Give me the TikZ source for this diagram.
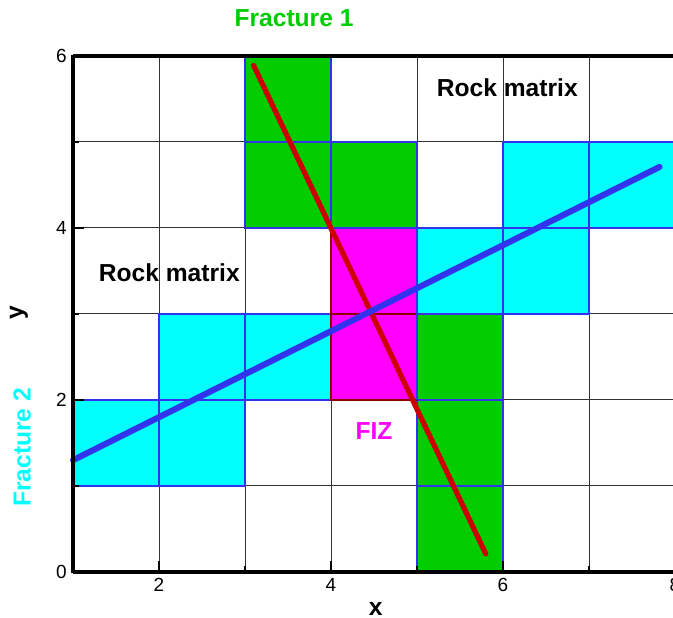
\documentclass[tikz,border=0pt]{standalone}
\usepackage{fontspec}
\setmainfont{Liberation Sans}
\definecolor{fgreen}{RGB}{0,204,0}
\definecolor{fcyan}{RGB}{0,255,255}
\definecolor{fmag}{RGB}{255,0,255}
\definecolor{fblue}{RGB}{51,51,238}
\definecolor{fred}{RGB}{204,0,0}
\begin{document}
\begin{tikzpicture}[x=43pt,y=43pt,
  gridline/.style={line width=0.5pt,black!80},
  cellborder/.style={line width=1.1pt,draw=fblue},
  axisline/.style={line width=1.6pt,black},
  ticklab/.style={font=\fontsize{9.5pt}{10pt}\selectfont,inner sep=0pt},
  lab/.style={font=\fontsize{12.3pt}{13pt}\selectfont\bfseries,inner sep=0pt}]
\useasboundingbox (0.1512,-0.5349) rectangle (7.9767,6.651);
% grid
\foreach \i in {2,...,7} \draw[gridline] (\i,0) -- (\i,6);
\foreach \j in {1,...,5} \draw[gridline] (1,\j) -- (8.1,\j);
% cyan cells
\foreach \a/\b in {1/1,2/1,2/2,3/2,5/3,6/3,6/4,7/4}
  \fill[fcyan] (\a,\b) rectangle ++(1,1);
% green cells
\foreach \a/\b in {3/5,3/4,4/4,5/2,5/1,5/0}
  \fill[fgreen] (\a,\b) rectangle ++(1,1);
% magenta cells
\foreach \a/\b in {4/3,4/2}
  \fill[fmag] (\a,\b) rectangle ++(1,1);
% borders
\foreach \a/\b in {1/1,2/1,2/2,3/2,5/3,6/3,6/4,7/4,3/5,3/4,4/4,5/2,5/1,5/0}
  \draw[cellborder] (\a,\b) rectangle ++(1,1);
\draw[line width=0.9pt,fred!70!black] (4,2) rectangle (5,3);
\draw[line width=0.9pt,fred!70!black] (4,3) rectangle (5,4);
\draw[cellborder] (4,4) -- (5,4);
\draw[cellborder] (5,2) -- (5,4);
% fracture lines
\coordinate (f1a) at (3.1,5.89);
\coordinate (f1b) at (5.8,0.21);
\coordinate (f2a) at (1,1.3);
\coordinate (f2b) at (7.82,4.71);
\draw[line width=2.6pt,fred,line cap=round] (f1a) -- (f1b);
\draw[line width=3pt,fblue,line cap=round] (f2a) -- (f2b);
% axes
\draw[axisline] (1,0) -- (8.2,0);
\draw[axisline] (1,6) -- (8.2,6);
\draw[axisline] (1,-0.01) -- (1,6.01);
% ticks
\foreach \i in {2,4,6} \draw[line width=1.3pt] (\i,0) -- (\i,0.13);
\foreach \i in {3,5,7} \draw[line width=1pt] (\i,0) -- (\i,0.07);
\foreach \j in {2,4,6} \draw[line width=1.3pt] (1,\j) -- (1.13,\j);
\foreach \j in {1,3,5} \draw[line width=1pt] (1,\j) -- (1.07,\j);
% tick labels
\foreach \i in {2,4,6,8} \node[ticklab] (xl\i) at (\i,-0.15) {\i};
\foreach \j in {0,2,4,6} \node[ticklab,anchor=east] (yl\j) at (0.93,\j) {\j};
% axis titles
\node[lab] (xt) at (4.52,-0.43) {x};
\node[lab,rotate=90] (yt) at (0.37,3.02) {y};
% labels
\node[lab,text=fgreen] (fr1) at (3.57,6.44) {Fracture 1};
\node[lab,text=fcyan,rotate=90] (fr2) at (0.41,1.45) {Fracture 2};
\node[lab] (rm1) at (6.05,5.63) {Rock matrix};
\node[lab] (rm2) at (2.12,3.48) {Rock matrix};
\node[lab,text=fmag] (fiz) at (4.5,1.64) {FIZ};
\end{tikzpicture}
\end{document}
